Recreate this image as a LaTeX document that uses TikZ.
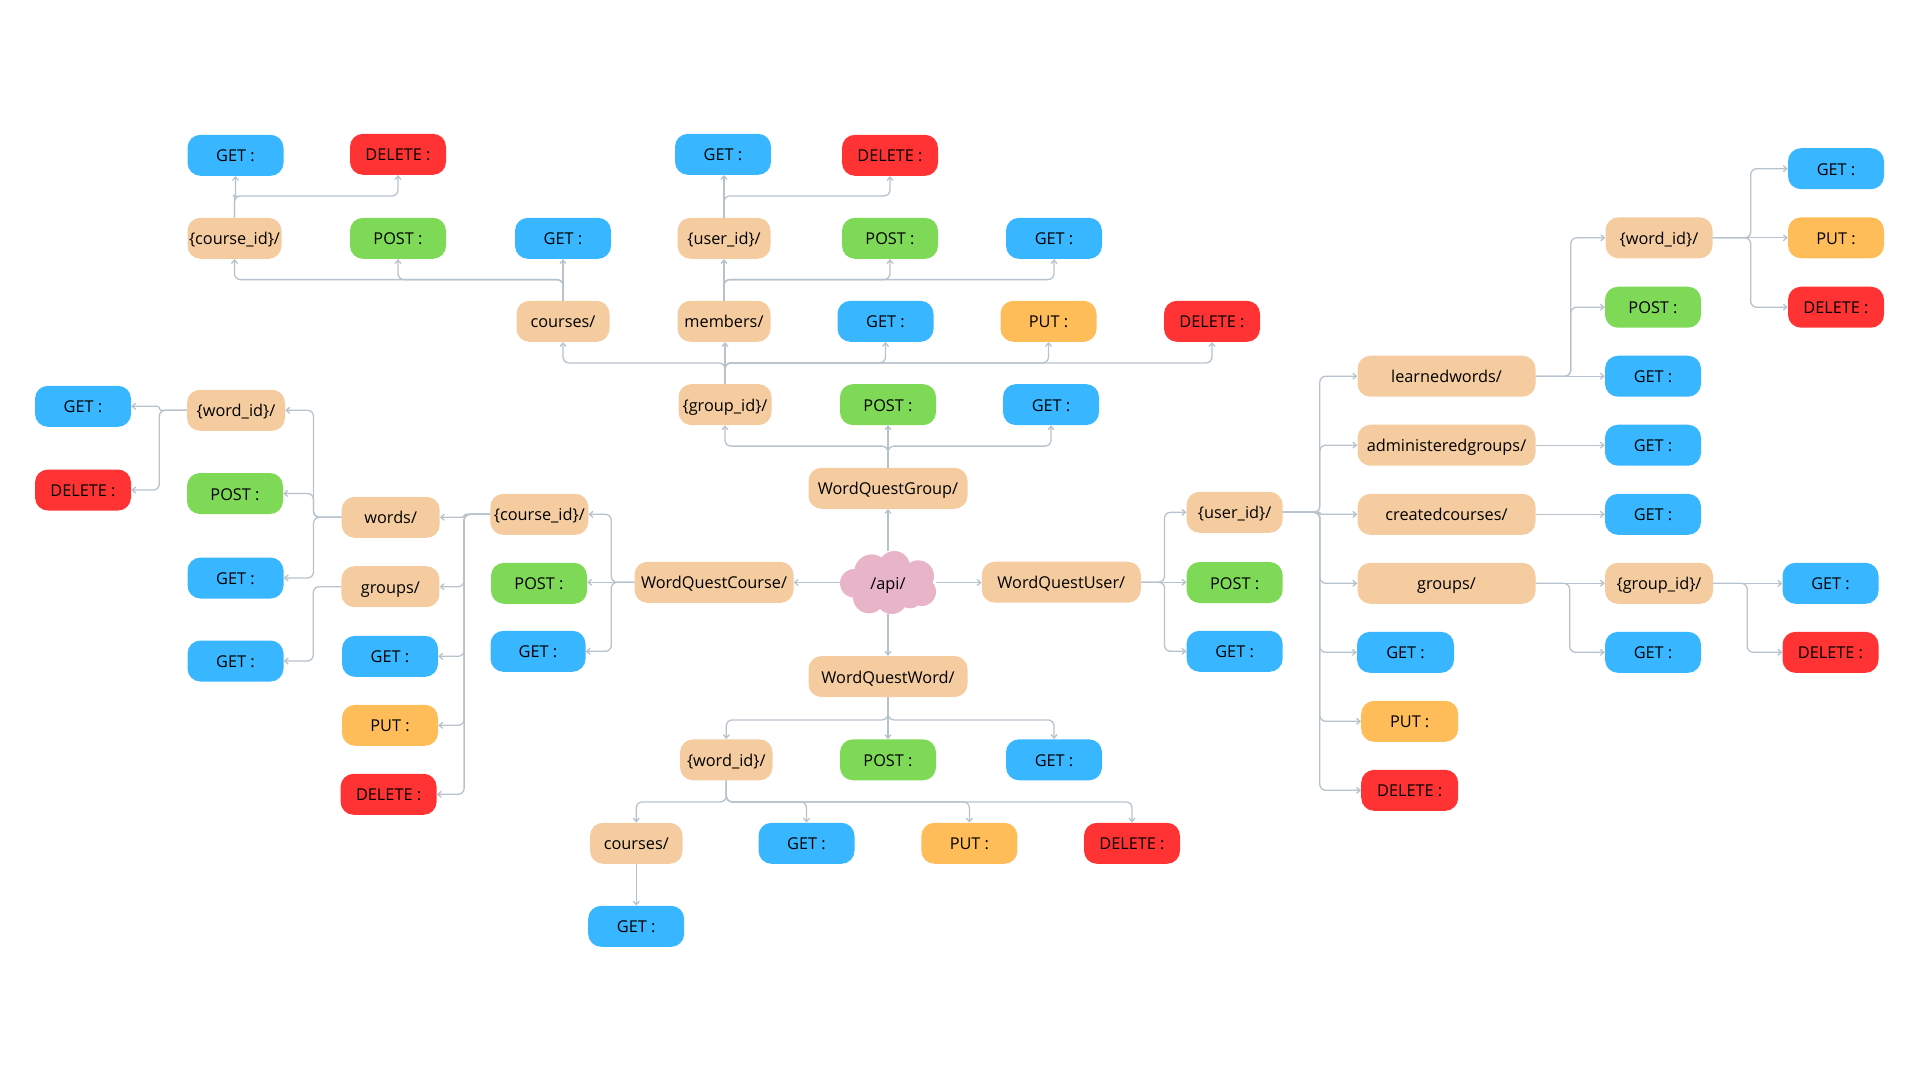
\documentclass[tikz,border=0pt]{standalone}
\usepackage{fontspec}
\setmainfont{Open Sans}
\usetikzlibrary{arrows.meta}
\definecolor{cblue}{HTML}{38B6FF}
\definecolor{cred}{HTML}{FF3333}
\definecolor{cgreen}{HTML}{7ED957}
\definecolor{corange}{HTML}{FFBD59}
\definecolor{ctan}{HTML}{F4CC9F}
\definecolor{cpink}{HTML}{E8B4C8}
\definecolor{cline}{HTML}{B7C2CC}
\tikzset{
  box/.style={rectangle,rounded corners=13,minimum height=41,minimum width=96,inner sep=0,text height=13,text depth=0,font=\fontsize{16.3}{19}\selectfont,text=black},
  mget/.style={box,fill=cblue},
  mpost/.style={box,fill=cgreen},
  mput/.style={box,fill=corange},
  mdel/.style={box,fill=cred},
  res/.style={box,fill=ctan},
  conn/.style={draw=cline,line width=1.3,rounded corners=6,-{Straight Barb[length=3.5,width=6]}},
  jog/.style={rounded corners=1.5},
}
\newcommand{\conU}[4][]{\draw[conn,#1] (#2.north) -- ++(0,-#4) -| (#3.south);}
\newcommand{\conD}[4][]{\draw[conn,#1] (#2.south) -- ++(0,#4) -| (#3.north);}
\newcommand{\conL}[4][]{\draw[conn,#1] (#2.west) -- ++(-#4,0) |- (#3.east);}
\newcommand{\conR}[4][]{\draw[conn,#1] (#2.east) -- ++(#4,0) |- (#3.west);}
\newcommand{\strU}[2]{\draw[conn] (#1.north) -- (#1.north |- #2.south);}
\newcommand{\strD}[2]{\draw[conn] (#1.south) -- (#1.south |- #2.north);}
\newcommand{\strL}[2]{\draw[conn] (#1.west) -- (#1.west -| #2.east);}
\newcommand{\strR}[2]{\draw[conn] (#1.east) -- (#1.east -| #2.west);}
\begin{document}
\begin{tikzpicture}[x=1pt,y=-1pt]
\useasboundingbox (0,0) rectangle (1920,1080);
% top group
\node[mget] (g1) at (235.5,155.3) {GET :};
\node[mdel] (d1) at (398,154.3) {DELETE :};
\node[mget] (g2) at (723,154.3) {GET :};
\node[mdel] (d2) at (890,155.3) {DELETE :};
\node[res,minimum width=94] (cid1) at (234.5,238.3) {\{course\_id\}/};
\node[mpost] (p1) at (398,238.3) {POST :};
\node[mget] (g3) at (563,238.3) {GET :};
\node[res,minimum width=93] (uid1) at (724,238.3) {\{user\_id\}/};
\node[mpost] (p2) at (890,238.3) {POST :};
\node[mget] (g4) at (1054,238.3) {GET :};
\node[res,minimum width=93] (crs1) at (563,321.3) {courses/};
\node[res,minimum width=93] (mem) at (724,321.3) {members/};
\node[mget] (g5) at (885.5,321.3) {GET :};
\node[mput] (u1) at (1048.5,321.3) {PUT :};
\node[mdel] (d3) at (1212,321.3) {DELETE :};
\node[res,minimum width=93] (gid1) at (725,404.6) {\{group\_id\}/};
\node[mpost] (p3) at (888,404.6) {POST :};
\node[mget] (g6) at (1051,404.6) {GET :};
\node[res,minimum width=159] (wqg) at (888,488.3) {WordQuestGroup/};
% centre: the cloud
\fill[cpink] (888.3,583.3) circle (27) (871.7,571.7) circle (17.3) (894.3,566.7) circle (15.7)
  (918.3,576) circle (15.7) (921.7,591.7) circle (14.3) (910,595) circle (13.3)
  (891.7,598.3) circle (15.7) (869,597.3) circle (16) (854.3,583.3) circle (14.3);
\node[box,minimum height=63] (api) at (888,582.5) {/api/};
% left group
\node[mget] (g7) at (83,406.3) {GET :};
\node[mdel] (d4) at (83,490) {DELETE :};
\node[res,minimum width=98] (wid1) at (236,410.3) {\{word\_id\}/};
\node[mpost] (p4) at (235,493.5) {POST :};
\node[mget] (g8) at (235.5,578) {GET :};
\node[mget] (g9) at (235.5,661) {GET :};
\node[res,minimum width=98] (wrd) at (390.7,517.3) {words/};
\node[res,minimum width=98] (cid2) at (539.3,514.3) {\{course\_id\}/};
\node[res,minimum width=159] (wqc) at (714,582.3) {WordQuestCourse/};
\node[mpost] (p5) at (539,583.3) {POST :};
\node[mget,minimum width=95] (g10) at (538,651.3) {GET :};
\node[res,minimum width=98] (grp1) at (390.4,586.7) {groups/};
\node[mget] (g11) at (390,656.3) {GET :};
\node[mput] (u2) at (390,725.3) {PUT :};
\node[mdel] (d5) at (388.6,794.3) {DELETE :};
% bottom group
\node[res,minimum width=159] (wqw) at (888,676.5) {WordQuestWord/};
\node[res,minimum width=92.5] (wid3) at (726.3,759.8) {\{word\_id\}/};
\node[mpost] (p6) at (888,759.8) {POST :};
\node[mget] (g12) at (1054,759.8) {GET :};
\node[res,minimum width=92.5] (crs2) at (636.3,843.3) {courses/};
\node[mget] (g13) at (806.5,843.3) {GET :};
\node[mput] (u3) at (969.4,843.3) {PUT :};
\node[mdel] (d6) at (1132,843.3) {DELETE :};
\node[mget] (g14) at (636.2,926.3) {GET :};
% right group
\node[res,minimum width=159] (wqu) at (1061.3,582.2) {WordQuestUser/};
\node[res] (uid2) at (1234.6,512.3) {\{user\_id\}/};
\node[mpost] (p7) at (1234.6,582.5) {POST :};
\node[mget] (g15) at (1234.6,651.3) {GET :};
\node[res,minimum width=178] (lw) at (1446.5,376.2) {learnedwords/};
\node[res,minimum width=178] (ag) at (1446.5,445.2) {administeredgroups/};
\node[res,minimum width=178] (cc) at (1446.5,514.3) {createdcourses/};
\node[res,minimum width=178] (grp2) at (1446.5,583.3) {groups/};
\node[mget,minimum width=97] (g16) at (1405.5,652.3) {GET :};
\node[mput,minimum width=97] (u4) at (1409.7,721.3) {PUT :};
\node[mdel,minimum width=97] (d7) at (1409.7,790.3) {DELETE :};
\node[res,minimum width=107] (wid2) at (1659,237.8) {\{word\_id\}/};
\node[mpost] (p8) at (1653,307.2) {POST :};
\node[mget] (g17) at (1653,376.2) {GET :};
\node[mget] (g18) at (1653,445.2) {GET :};
\node[mget] (g19) at (1653,514.3) {GET :};
\node[res,minimum width=108] (gid2) at (1659,583.3) {\{group\_id\}/};
\node[mget] (g20) at (1653,652.3) {GET :};
\node[mget] (g21) at (1836,168.7) {GET :};
\node[mput] (u5) at (1836,237.8) {PUT :};
\node[mdel] (d8) at (1836,307.2) {DELETE :};
\node[mget] (g22) at (1830.5,583.3) {GET :};
\node[mdel] (d9) at (1830.5,652.3) {DELETE :};
% connectors: top
\strU{api}{wqg}
\conU{wqg}{gid1}{21.5}
\strU{wqg}{p3}
\conU{wqg}{g6}{21.5}
\conU{gid1}{crs1}{21}
\strU{gid1}{mem}
\conU{gid1}{g5}{21}
\conU{gid1}{u1}{21}
\conU{gid1}{d3}{21}
\conU{crs1}{cid1}{21}
\conU{crs1}{p1}{21}
\strU{crs1}{g3}
\strU{mem}{uid1}
\conU{mem}{p2}{21}
\conU{mem}{g4}{21}
\conU[jog]{cid1}{g1}{21.7}
\conU{cid1}{d1}{21.7}
\strU{uid1}{g2}
\conU{uid1}{d2}{21.7}
% connectors: left
\strL{api}{wqc}
\conL{wqc}{cid2}{23}
\strL{wqc}{p5}
\conL{wqc}{g10}{23}
\conL[jog]{cid2}{wrd}{26}
\conL{cid2}{grp1}{26}
\conL{cid2}{g11}{26}
\conL{cid2}{u2}{26}
\conL{cid2}{d5}{26}
\conL{wrd}{wid1}{28}
\conL{wrd}{p4}{28}
\conL{wrd}{g8}{28}
\conL{grp1}{g9}{28}
\conL[jog]{wid1}{g7}{27.5}
\conL{wid1}{d4}{27.5}
% connectors: bottom
\strD{api}{wqw}
\conD{wqw}{wid3}{22.7}
\strD{wqw}{p6}
\conD{wqw}{g12}{22.7}
\conD{wid3}{crs2}{21.4}
\conD{wid3}{g13}{21.4}
\conD{wid3}{u3}{21.4}
\conD{wid3}{d6}{21.4}
\strD{crs2}{g14}
% connectors: right
\strR{api}{wqu}
\conR{wqu}{uid2}{23.5}
\strR{wqu}{p7}
\conR{wqu}{g15}{23.5}
\conR{uid2}{lw}{37}
\conR{uid2}{ag}{37}
\conR[jog]{uid2}{cc}{37}
\conR{uid2}{grp2}{37}
\conR{uid2}{g16}{37}
\conR{uid2}{u4}{37}
\conR{uid2}{d7}{37}
\conR{lw}{wid2}{35}
\conR{lw}{p8}{35}
\strR{lw}{g17}
\strR{ag}{g18}
\strR{cc}{g19}
\strR{grp2}{gid2}
\conR{grp2}{g20}{34}
\strR{gid2}{g22}
\conR{gid2}{d9}{34}
\conR{wid2}{g21}{38}
\strR{wid2}{u5}
\conR{wid2}{d8}{38}
\end{tikzpicture}
\end{document}
